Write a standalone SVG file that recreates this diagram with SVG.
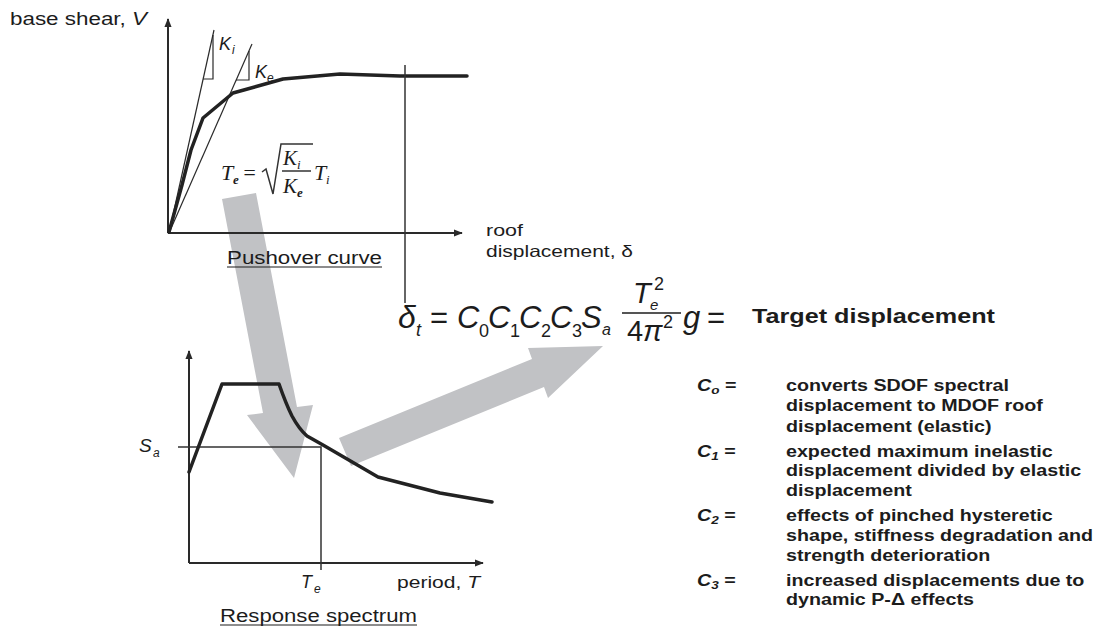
<svg xmlns="http://www.w3.org/2000/svg" width="1106" height="631" viewBox="0 0 1106 631">
<defs>
<style>
.t{font-family:"Liberation Sans",Arial,sans-serif;fill:#1c1c1c}
.s{font-family:"Liberation Serif","Times New Roman",serif;fill:#1c1c1c;font-style:italic}
.it{font-style:italic}
.b{font-weight:bold}
.ax{stroke:#2a2a2a;stroke-width:2;fill:none}
.thin{stroke:#2a2a2a;stroke-width:1.2;fill:none}
.thick{stroke:#222;stroke-width:3.5;fill:none;stroke-linejoin:round;stroke-linecap:round}
.ref{stroke:#333;stroke-width:1.5;fill:none}
.big{fill:#c1c2c5;stroke:none}
</style>
<marker id="ah" viewBox="0 0 10 10" refX="9" refY="5" markerWidth="9" markerHeight="9" markerUnits="userSpaceOnUse" orient="auto">
<path d="M0,1 L10,5 L0,9 Z" fill="#2a2a2a"/>
</marker>
</defs>
<rect width="1106" height="631" fill="#ffffff"/>

<g id="connectors">
<polygon class="big" points="222,199 256,193 297,407 313,405 294,478 247,415 263,413"/>
<polygon class="big" points="339,438 532,359 528,348 603,346 548,398 544,387 351,466"/>
</g>

<g id="pushover-curve">
<path class="ax" d="M168,233 L168,19" marker-end="url(#ah)"/>
<path class="ax" d="M168,233 L462,233" marker-end="url(#ah)"/>
<path class="thin" d="M169,233 L214,30"/>
<path class="thin" d="M169,233 L252,44"/>
<path class="thin" d="M203,79 L213,79 L213,35"/>
<path class="thin" d="M236,80 L249,80 L249,51"/>
<path class="thick" d="M169,232 L182,185 L191,150 L203,118 L233,93 L283,79 L340,74 L400,76 L467,76"/>
<path class="ref" d="M405,65 L405,303"/>
<text class="t" font-size="17.5" x="10" y="25" textLength="137" lengthAdjust="spacingAndGlyphs">base shear, <tspan class="it">V</tspan></text>
<text class="t it" font-size="18" x="219" y="50">K</text><text class="t it" font-size="12" x="232" y="54">i</text>
<text class="t it" font-size="18" x="255" y="78">K</text><text class="t it" font-size="12" x="267" y="82">e</text>
<text class="t" font-size="16.5" x="486" y="236" textLength="37" lengthAdjust="spacingAndGlyphs">roof</text>
<text class="t" font-size="16.5" x="486" y="257" textLength="147" lengthAdjust="spacingAndGlyphs">displacement, δ</text>
<text class="s" font-size="22" x="221" y="180">T</text><text class="s b" font-size="13" x="233" y="184">e</text>
<text class="s" font-size="22" x="242" y="180" font-style="normal">=</text>
<path class="ref" d="M262,172 L266,169 L273,194 L281,144 L313,144" stroke-width="1.3"/>
<text class="s" font-size="21" x="283" y="165">K</text><text class="s" font-size="13" x="297" y="169">i</text>
<path class="ref" d="M282,171 L311,171" stroke-width="1.2"/>
<text class="s" font-size="21" x="283" y="193">K</text><text class="s b" font-size="13" x="297" y="197">e</text>
<text class="s" font-size="22" x="314" y="180">T</text><text class="s" font-size="13" x="326" y="184">i</text>
<text class="t" font-size="18" x="227" y="264" textLength="155" lengthAdjust="spacingAndGlyphs">Pushover curve</text>
<path d="M227,267 L382,267" stroke="#1c1c1c" stroke-width="1.2"/>
</g>

<g id="response-spectrum">
<path class="ax" d="M189,563 L189,351" marker-end="url(#ah)"/>
<path class="ax" d="M189,563 L483,563" marker-end="url(#ah)"/>
<path class="ref" d="M178,447 L321,447 L321,570"/>
<path class="thick" d="M189,472 L222,384 L279,384 Q286,404 292,416 Q299,429 307,436 L323,445 L378,477 L440,493 L492,502"/>
<text class="t it" font-size="19" x="139" y="452">S</text><text class="t it" font-size="12" x="153" y="457">a</text>
<text class="t it" font-size="18" x="301" y="588">T</text><text class="t it" font-size="12" x="314" y="593">e</text>
<text class="t" font-size="17" x="397" y="588" textLength="83" lengthAdjust="spacingAndGlyphs">period, <tspan class="it">T</tspan></text>
<text class="t" font-size="18" x="220" y="622" textLength="197" lengthAdjust="spacingAndGlyphs">Response spectrum</text>
<path d="M220,625 L417,625" stroke="#1c1c1c" stroke-width="1.2"/>
</g>

<g id="target-displacement">
<text class="t it" font-size="32" x="398" y="328">δ</text>
<text class="t it" font-size="18" x="416" y="336">t</text>
<text class="t" font-size="31" x="430" y="328">=</text>
<text class="t it" font-size="31" x="457" y="328">C</text><text class="t" font-size="18" x="479" y="337">0</text>
<text class="t it" font-size="31" x="488" y="328">C</text><text class="t" font-size="18" x="510" y="337">1</text>
<text class="t it" font-size="31" x="519" y="328">C</text><text class="t" font-size="18" x="541" y="337">2</text>
<text class="t it" font-size="31" x="550" y="328">C</text><text class="t" font-size="18" x="572" y="337">3</text>
<text class="t it" font-size="31" x="581" y="328">S</text><text class="t it" font-size="16" x="602" y="335">a</text>
<text class="t it" font-size="29" x="633" y="303">T</text><text class="t it" font-size="15" x="650" y="310">e</text><text class="t" font-size="18" x="654" y="290">2</text>
<path d="M622,313 L681,313" stroke="#1c1c1c" stroke-width="1.3"/>
<text class="t" font-size="29" x="627" y="341">4</text><text class="t it" font-size="29" x="643" y="341">π</text><text class="t" font-size="18" x="663" y="328">2</text>
<text class="t it" font-size="31" x="683" y="328">g</text>
<text class="t" font-size="31" x="707" y="328">=</text>
<text class="t b" font-size="20" x="752" y="323" textLength="243" lengthAdjust="spacingAndGlyphs">Target displacement</text>
</g>

<g id="coefficients">
<g transform="translate(697,0) scale(1.23,1)">
<text class="t b" font-size="16" x="0" y="391"><tspan class="it">C</tspan><tspan class="it" font-size="11" dy="3">o</tspan><tspan dy="-3"> =</tspan></text>
<text class="t b" font-size="16" x="0" y="457"><tspan class="it">C</tspan><tspan class="it" font-size="11" dy="3">1</tspan><tspan dy="-3"> =</tspan></text>
<text class="t b" font-size="16" x="0" y="521"><tspan class="it">C</tspan><tspan class="it" font-size="11" dy="3">2</tspan><tspan dy="-3"> =</tspan></text>
<text class="t b" font-size="16" x="0" y="586"><tspan class="it">C</tspan><tspan class="it" font-size="11" dy="3">3</tspan><tspan dy="-3"> =</tspan></text>
</g>
<g transform="translate(786,0) scale(1.23,1)">
<text class="t b" font-size="16" x="0" y="391">converts SDOF spectral</text>
<text class="t b" font-size="16" x="0" y="411">displacement to MDOF roof</text>
<text class="t b" font-size="16" x="0" y="432">displacement (elastic)</text>
<text class="t b" font-size="16" x="0" y="457">expected maximum inelastic</text>
<text class="t b" font-size="16" x="0" y="476">displacement divided by elastic</text>
<text class="t b" font-size="16" x="0" y="496">displacement</text>
<text class="t b" font-size="16" x="0" y="521">effects of pinched hysteretic</text>
<text class="t b" font-size="16" x="0" y="541">shape, stiffness degradation and</text>
<text class="t b" font-size="16" x="0" y="561">strength deterioration</text>
<text class="t b" font-size="16" x="0" y="586">increased displacements due to</text>
<text class="t b" font-size="16" x="0" y="605">dynamic P-Δ effects</text>
</g>
</g>
</svg>
